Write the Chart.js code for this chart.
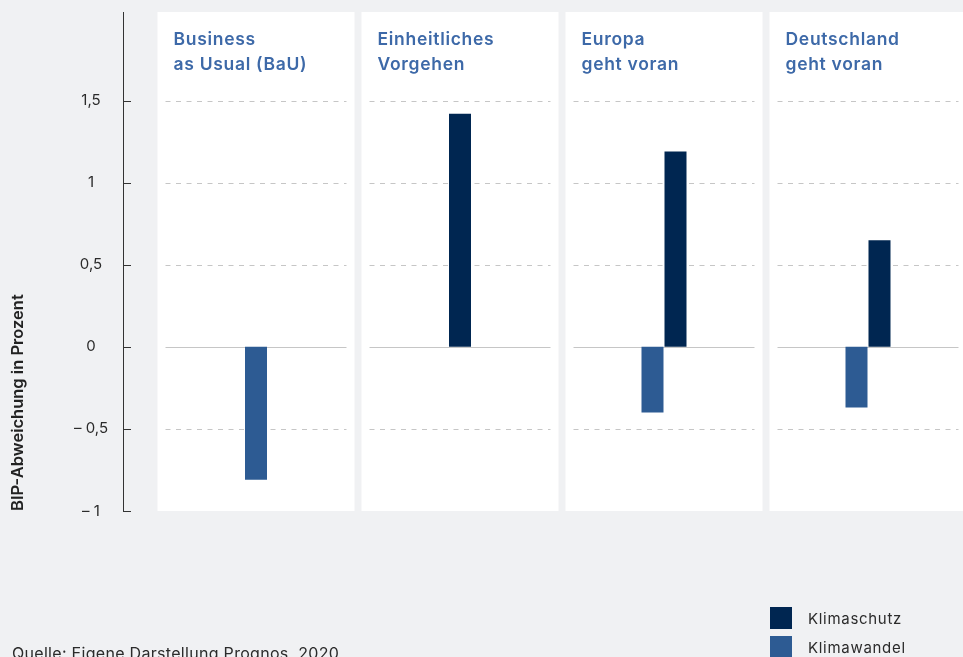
<!DOCTYPE html>
<html lang="de">
<head>
<meta charset="utf-8">
<title>BIP-Abweichung</title>
<script src="https://cdn.jsdelivr.net/npm/chart.js@4/dist/chart.umd.min.js"></script>
<style>
  body { margin: 0; background: #f0f1f3; overflow: hidden; font-family: Inter, "Noto Sans", sans-serif; }
  #wrap { position: absolute; left: 0; top: 0; }
  .src { position: absolute; left: 12px; top: 645px; font-size: 16px; line-height: 16px; letter-spacing: 0.3px; color: #2b2b2b; white-space: nowrap; }
  .leg { position: absolute; left: 770px; font-size: 15px; line-height: 15px; letter-spacing: 0.7px; color: #2b2b2b; }
  .leg span { position: absolute; left: 0; top: 0; width: 22px; height: 22px; }
  .leg b { position: absolute; left: 38px; top: 4px; font-weight: 400; white-space: nowrap; }
</style>
</head>
<body>
<div id="wrap"><canvas id="myChart" width="970" height="657"></canvas></div>
<div class="src">Quelle: Eigene Darstellung Prognos, 2020</div>
<div class="leg" style="top:607px"><span style="background:#002651"></span><b>Klimaschutz</b></div>
<div class="leg" style="top:636px"><span style="background:#2d5b93"></span><b>Klimawandel</b></div>
<script>
// Szenarien (Panel-Titel, zweizeilig)
var szenarien = [
  ['Business', 'as Usual (BaU)'],
  ['Einheitliches', 'Vorgehen'],
  ['Europa', 'geht voran'],
  ['Deutschland', 'geht voran']
];
// BIP-Abweichung in Prozent, null = kein Balken
var klimawandel = [-0.81, null, -0.40, -0.37];
var klimaschutz = [null, 1.42, 1.19, 0.65];

var yTicks = [-1, -0.5, 0, 0.5, 1, 1.5];
var yTickLabels = ['\u2013 1', '\u2013 0,5', '0', '0,5', '1', '1,5'];

// weisse Panels, Hilfslinien, Titel und die Y-Achse
var panelPlugin = {
  id: 'panels',
  beforeDatasetsDraw: function (chart) {
    var ctx = chart.ctx;
    var xs = chart.scales.x;
    var ys = chart.scales.y;
    var area = chart.chartArea;
    var cw = (area.right - area.left) / szenarien.length;
    ctx.save();
    for (var i = 0; i < szenarien.length; i++) {
      var cx = xs.getPixelForValue(i);
      var left = cx - cw / 2 + 3.5;
      var w = cw - 7;
      ctx.fillStyle = '#ffffff';
      ctx.fillRect(left, area.top, w, area.bottom - area.top);

      ctx.lineWidth = 1;
      ctx.strokeStyle = '#c6c6c6';
      yTicks.forEach(function (v) {
        if (v === yTicks[0]) return;
        var y = Math.round(ys.getPixelForValue(v)) + 0.5;
        ctx.setLineDash(v === 0 ? [] : [5, 5.5]);
        ctx.beginPath();
        ctx.moveTo(left + 8, y);
        ctx.lineTo(left + w - 8, y);
        ctx.stroke();
      });
      ctx.setLineDash([]);

      ctx.fillStyle = '#3d69a8';
      ctx.font = '600 17.5px Inter';
      ctx.letterSpacing = '0.7px';
      ctx.textAlign = 'left';
      ctx.textBaseline = 'alphabetic';
      szenarien[i].forEach(function (line, k) {
        ctx.fillText(line, left + 16, 45 + k * 25);
      });
      ctx.letterSpacing = '0px';
    }

    // Achsenlinie mit kurzen Strichen
    ctx.strokeStyle = '#333333';
    ctx.lineWidth = 1;
    ctx.beginPath();
    ctx.moveTo(123.5, area.top);
    ctx.lineTo(123.5, Math.round(ys.getPixelForValue(yTicks[0])) + 1);
    yTicks.forEach(function (v) {
      var y = Math.round(ys.getPixelForValue(v)) + 0.5;
      ctx.moveTo(123, y);
      ctx.lineTo(131, y);
    });
    ctx.stroke();
    ctx.restore();
  }
};

var totalChart = new Chart('myChart', {
  type: 'bar',
  data: {
    labels: szenarien,
    datasets: [
      { label: 'Klimawandel', data: klimawandel, backgroundColor: '#2d5b93' },
      { label: 'Klimaschutz', data: klimaschutz, backgroundColor: '#002651' }
    ]
  },
  options: {
    responsive: false,
    animation: false,
    skipNull: true,
    maxBarThickness: 22,
    categoryPercentage: 0.2255,
    barPercentage: 0.9565,
    layout: { padding: { top: 12, bottom: 146, left: 0, right: 0 } },
    plugins: {
      legend: { display: false },
      tooltip: { enabled: false }
    },
    scales: {
      x: { display: false },
      y: {
        min: -1,
        max: 2.04,
        afterBuildTicks: function (scale) {
          scale.ticks = yTicks.map(function (v) { return { value: v }; });
        },
        afterFit: function (scale) {
          scale.width = 154;
          scale.paddingTop = 0;
          scale.paddingBottom = 0;
        },
        grid: { display: false, drawTicks: false },
        border: { display: false },
        ticks: {
          crossAlign: 'center',
          padding: 46,
          color: '#2b2b2b',
          font: { family: 'Inter', size: 15 },
          callback: function (value, index) { return yTickLabels[index]; }
        },
        title: {
          display: true,
          text: 'BIP-Abweichung in Prozent',
          align: 'start',
          color: '#222222',
          font: { family: 'Inter', size: 16.5, weight: '600' },
          padding: { top: 8, bottom: 0 }
        }
      }
    }
  },
  plugins: [panelPlugin]
});
</script>
</body>
</html>
